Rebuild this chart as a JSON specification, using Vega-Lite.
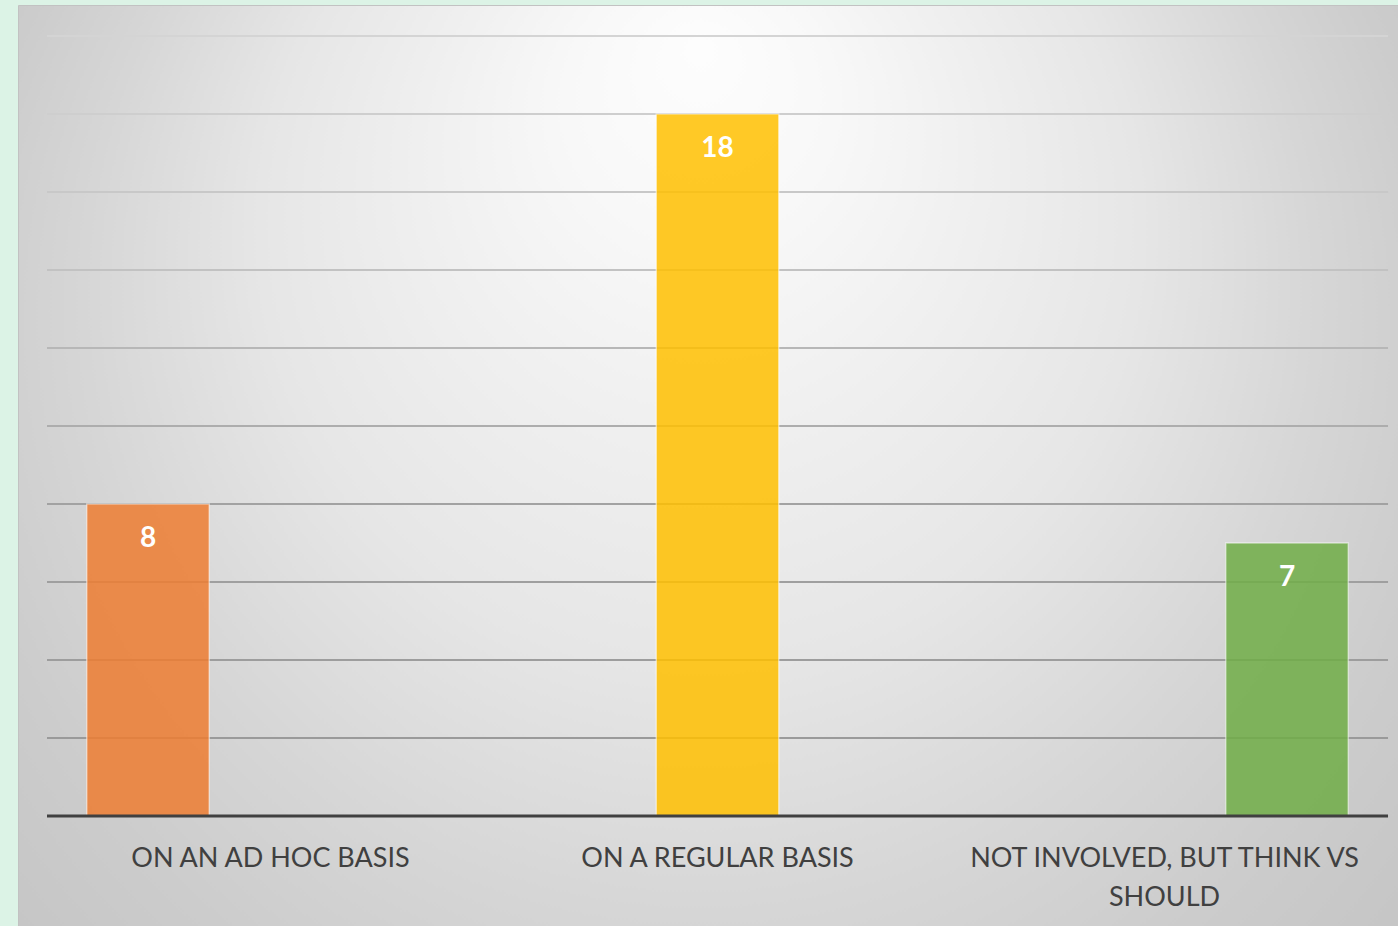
{
  "$schema": "https://vega.github.io/schema/vega-lite/v6.json",
  "width": 1380,
  "height": 921,
  "autosize": {"type": "none"},
  "padding": {"left": 18, "top": 5, "right": 0, "bottom": 0},
  "background": "#dcf3e6",
  "view": {
    "stroke": "#c2c2c2",
    "strokeWidth": 1,
    "fill": {
      "gradient": "radial",
      "x1": 0.4942, "y1": 0.1953, "r1": 0,
      "x2": 0.4942, "y2": 0.4562, "r2": 0.637,
      "stops": [
        {"offset": 0, "color": "#fdfdfd"},
        {"offset": 0.15, "color": "#f8f8f8"},
        {"offset": 0.3, "color": "#f0f0f0"},
        {"offset": 0.5, "color": "#e6e6e6"},
        {"offset": 0.7, "color": "#d6d6d6"},
        {"offset": 0.85, "color": "#cccccc"},
        {"offset": 1, "color": "#c5c5c5"}
      ]
    }
  },
  "datasets": {
    "bars": [
      {"category": "ON AN AD HOC BASIS", "series": "ad hoc", "value": 8},
      {"category": "ON A REGULAR BASIS", "series": "regular", "value": 18},
      {"category": "NOT INVOLVED, BUT THINK VS SHOULD", "series": "not involved", "value": 7}
    ],
    "grid": [
      {"g": 2}, {"g": 4}, {"g": 6}, {"g": 8}, {"g": 10},
      {"g": 12}, {"g": 14}, {"g": 16}, {"g": 18}, {"g": 20}
    ],
    "baseline": [{"b": 0}]
  },
  "layer": [
    {
      "data": {"name": "grid"},
      "mark": {"type": "rule", "strokeWidth": 2},
      "encoding": {
        "y": {
          "field": "g",
          "type": "quantitative",
          "scale": {"domain": [-2.8205, 20.795], "nice": false, "zero": false},
          "axis": null
        },
        "x": {
          "datum": "ON AN AD HOC BASIS",
          "type": "nominal",
          "bandPosition": 0,
          "scale": {
            "domain": ["ON AN AD HOC BASIS", "ON A REGULAR BASIS", "NOT INVOLVED, BUT THINK VS SHOULD"],
            "paddingInner": 0,
            "paddingOuter": 0.0436,
            "align": 0.744
          },
          "axis": {
            "title": null,
            "orient": "bottom",
            "offset": -110,
            "domain": false,
            "ticks": false,
            "grid": false,
            "labelAngle": 0,
            "labelFont": "Lato",
            "labelFontSize": 27,
            "labelColor": "#404040",
            "labelPadding": 29,
            "labelBaseline": "top",
            "labelLineHeight": 39,
            "labelLimit": 0,
            "labelOverlap": false,
            "labelExpr": "datum.label == 'NOT INVOLVED, BUT THINK VS SHOULD' ? ['NOT INVOLVED, BUT THINK VS', 'SHOULD'] : datum.label"
          }
        },
        "x2": {"datum": "NOT INVOLVED, BUT THINK VS SHOULD", "bandPosition": 1},
        "stroke": {
          "field": "g",
          "type": "quantitative",
          "scale": {"domain": [2, 8, 14, 20], "range": ["#9a9a9a", "#a2a2a2", "#c2c2c2", "#d4d4d4"]},
          "legend": null
        }
      }
    },
    {
      "data": {"name": "bars"},
      "mark": {"type": "bar", "fillOpacity": 0.85, "stroke": "#ffffff", "strokeOpacity": 0.5, "strokeWidth": 1.5},
      "encoding": {
        "x": {"field": "category", "type": "nominal", "sort": null},
        "xOffset": {
          "field": "series",
          "type": "nominal",
          "sort": null,
          "scale": {
            "domain": ["ad hoc", "regular", "not involved"],
            "paddingInner": 0,
            "paddingOuter": 0.3245
          }
        },
        "y": {"field": "value", "type": "quantitative"},
        "y2": {"datum": 0},
        "color": {
          "field": "series",
          "type": "nominal",
          "scale": {"domain": ["ad hoc", "regular", "not involved"], "range": ["#ED7D31", "#FFC000", "#70AD47"]},
          "legend": null
        }
      }
    },
    {
      "data": {"name": "bars"},
      "mark": {"type": "text", "color": "#ffffff", "font": "Lato", "fontWeight": "bold", "fontSize": 28, "baseline": "middle", "dy": 35},
      "encoding": {
        "x": {"field": "category", "type": "nominal", "sort": null},
        "xOffset": {"field": "series", "type": "nominal", "sort": null},
        "y": {"field": "value", "type": "quantitative"},
        "text": {"field": "value", "type": "quantitative"}
      }
    },
    {
      "data": {"name": "baseline"},
      "mark": {"type": "rule", "color": "#404040", "strokeWidth": 3},
      "encoding": {
        "y": {"field": "b", "type": "quantitative"},
        "x": {"datum": "ON AN AD HOC BASIS", "type": "nominal", "bandPosition": 0},
        "x2": {"datum": "NOT INVOLVED, BUT THINK VS SHOULD", "bandPosition": 1}
      }
    }
  ]
}
